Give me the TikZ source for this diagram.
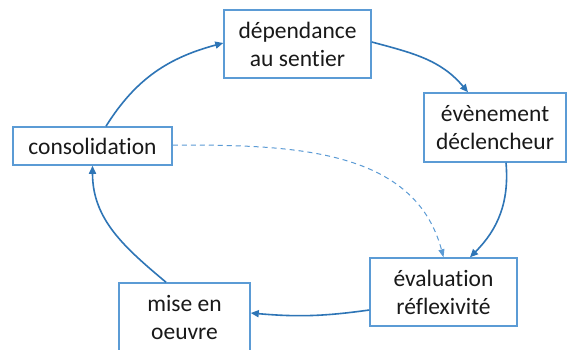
\documentclass[tikz,border=0pt]{standalone}
\usepackage{fontspec}
\setmainfont{Carlito}[Ligatures=NoCommon]
\usetikzlibrary{arrows.meta}
\definecolor{boxblue}{HTML}{5B9BD5}
\definecolor{arrblue}{HTML}{2E75B6}
\tikzset{
  stepbox/.style={draw=boxblue, line width=1.5pt, fill=white, inner sep=0pt, align=center,
    font=\fontsize{23.5}{28}\selectfont, text=black!90},
  flow/.style={draw=arrblue, line width=1.6pt, -{Triangle[length=8pt,width=7pt]}},
  dashflow/.style={draw=boxblue, line width=1pt, dash pattern=on 5pt off 4pt, -{Triangle[length=8pt,width=6pt]}}
}
\begin{document}
\begin{tikzpicture}[x=1pt,y=1pt]
\clip (0,0) rectangle (567,349);
\fill[white] (0,0) rectangle (567,349);
\node[stepbox, minimum width=147pt, minimum height=68pt] (dep) at (297.5,305) {dépendance\\au sentier};
\node[stepbox, minimum width=142pt, minimum height=69pt] (eve) at (495,221.5) {évènement\\déclencheur};
\node[stepbox, minimum width=159pt, minimum height=38pt] (con) at (92.5,203) {consolidation};
\node[stepbox, minimum width=147pt, minimum height=68pt] (eva) at (443.5,57) {évaluation\\réflexivité};
\node[stepbox, minimum width=131pt, minimum height=68pt] (mise) at (184.5,32) {mise en\\oeuvre};
\draw[flow] ([xshift=13.5pt]con.north) to[out=58, in=195] ([yshift=1pt]dep.west);
\draw[flow] ([yshift=2pt]dep.east) to[out=-15, in=130] ([xshift=-27pt]eve.north);
\draw[flow] ([xshift=11pt]eve.south) to[out=-85, in=45] ([xshift=26.5pt]eva.north);
\draw[flow] ([yshift=-18pt]eva.west) to[out=188, in=-5] ([yshift=4pt]mise.east);
\draw[flow] ([xshift=-18.5pt]mise.north) to[out=140, in=-90] (con.south);
\draw[dashflow] ([yshift=1pt]con.east) to[out=0, in=105] (eva.north);
\end{tikzpicture}
\end{document}
